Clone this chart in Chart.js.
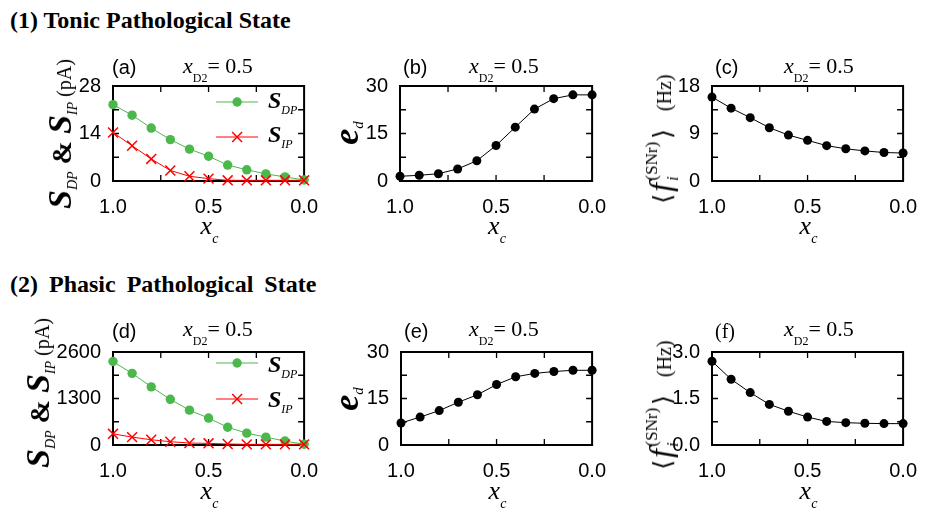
<!DOCTYPE html>
<html lang="en">
<head>
<meta charset="UTF-8">
<title>Tonic and Phasic Pathological States</title>
<script src="https://cdn.jsdelivr.net/npm/chart.js"></script>
<style>
  body { margin: 0; background: #fff; }
  #fig { position: relative; width: 933px; height: 509px; overflow: hidden; }
  #fig canvas { position: absolute; }
  .t { position: absolute; white-space: nowrap; line-height: 1; color: #000;
       font-family: "Liberation Serif", "Times New Roman", serif; }
  .sans { font-family: "Liberation Sans", Arial, sans-serif; }
  .head { font-size: 24px; font-weight: bold; }
  .letter { font-size: 20px; }
  .cond { font-size: 22px; }
  .cond .sub { font-size: 12px; position: relative; top: 9px; }
  .xlab { font-size: 26px; font-style: italic; transform: translateX(-50%); }
  .xlab .sub { font-size: 14px; position: relative; top: 9px; }
  .ylab { font-size: 20px; transform: translate(-50%, -50%) rotate(-90deg); }
  .bigS { font-size: 34px; font-weight: bold; font-style: italic; }
  .amp { font-size: 28px; font-weight: bold; margin: 0 2px; }
  .ysub { font-size: 14px; font-style: italic; position: relative; top: 6px; }
  .br { font-family: "DejaVu Serif", serif; font-size: 25px; }
  .fbig { font-size: 32px; font-style: italic; margin-left: 2px; }
  .fsub { font-size: 16px; font-style: italic; position: relative; top: 7px; margin-left: 2px; }
  .fsup { font-size: 17px; position: relative; top: -14px; margin-left: -4px; margin-right: 3px; }
  .unit { margin-left: 18px; }
  .leg .S { font-size: 24px; font-weight: bold; font-style: italic; }
  .leg .sub { font-size: 12px; font-style: italic; position: relative; top: 6px; }
</style>
</head>
<body>
<div id="fig">
  <div class="t head" style="left:10px;top:8px">(1) Tonic Pathological State</div>
  <div class="t head" style="left:10px;top:272px;word-spacing:5px">(2) Phasic Pathological State</div>
</div>

<script>
  const xc = [1.0, 0.9, 0.8, 0.7, 0.6, 0.5, 0.4, 0.3, 0.2, 0.1, 0.0];
  const xTicks = [1.0, 0.5, 0.0];

  // (1) tonic pathological state
  const tonicSDP = [22.5, 19.4, 15.6, 12.2, 9.4, 7.3, 4.7, 3.3, 2.1, 1.2, 0.3];
  const tonicSIP = [14.3, 10.4, 6.5, 3.1, 1.4, 0.7, 0.2, 0.2, 0.2, 0.2, 0.2];
  const tonicEd = [1.5, 1.8, 2.3, 3.8, 6.4, 11.2, 17.0, 22.7, 26.0, 27.2, 27.2];
  const tonicF = [15.9, 13.8, 12.0, 10.1, 8.7, 7.7, 6.7, 6.1, 5.7, 5.4, 5.3];

  // (2) phasic pathological state
  const phasicSDP = [2333, 2003, 1626, 1277, 974, 753, 496, 331, 220, 110, 20];
  const phasicSIP = [312, 220, 147, 92, 55, 46, 28, 18, 18, 18, 18];
  const phasicEd = [7.1, 9.0, 11.1, 13.8, 16.2, 19.5, 22.0, 23.1, 23.7, 24.1, 24.1];
  const phasicF = [2.70, 2.12, 1.69, 1.31, 1.09, 0.90, 0.76, 0.72, 0.70, 0.69, 0.69];

  const yTicksS1 = [0, 14, 28];
  const yTicksEd = [0, 15, 30];
  const yTicksF1 = [0, 9, 18];
  const yTicksS2 = [0, 1300, 2600];
  const yTicksF2 = [0, 1.5, 3.0];

  const styles = {
    green: { color: "#4cb84c", pointStyle: "circle", pointRadius: 4.7, pointBorderWidth: 0 },
    red: { color: "#ff0000", pointStyle: "crossRot", pointRadius: 7, pointBorderWidth: 1.5 },
    black: { color: "#000000", pointStyle: "circle", pointRadius: 4.5, pointBorderWidth: 0 }
  };

  const labS = '<span class="bigS">S</span><span class="ysub">DP</span> <span class="amp">&amp;</span> ' +
               '<span class="bigS">S</span><span class="ysub">IP</span> (pA)';
  const labE = '<b><i style="font-size:36px">e</i></b><i style="font-size:15px;position:relative;top:5px">d</i>';
  const labF = '<span class="br">&#x27E8;</span><span class="fbig">f</span><span class="fsub">i</span>' +
               '<span class="fsup">(SNr)</span><span class="br">&#x27E9;</span><span class="unit">(Hz)</span>';

  const panels = [
    { letter: "(a)", left: 113, top: 84, w: 193, h: 97, yTicks: yTicksS1, dec: 0, ylab: labS, yc: [60, 134],
      series: [[tonicSDP, "green"], [tonicSIP, "red"]], legendRows: [16, 51], legendTops: [88, 122], condLeft: 183 },
    { letter: "(b)", left: 400, top: 84, w: 194, h: 97, yTicks: yTicksEd, dec: 0, ylab: labE, yc: [346, 133],
      series: [[tonicEd, "black"]], condLeft: 469 },
    { letter: "(c)", left: 712, top: 84, w: 193, h: 97, yTicks: yTicksF1, dec: 0, ylab: labF, yc: [660, 139],
      series: [[tonicF, "black"]], condLeft: 784 },
    { letter: "(d)", left: 113, top: 350, w: 193, h: 95, yTicks: yTicksS2, dec: 0, ylab: labS, yc: [38, 393],
      series: [[phasicSDP, "green"], [phasicSIP, "red"]], legendRows: [11, 47], legendTops: [352, 387], condLeft: 183 },
    { letter: "(e)", left: 401, top: 350, w: 193, h: 95, yTicks: yTicksEd, dec: 0, ylab: labE, yc: [346, 399],
      series: [[phasicEd, "black"]], condLeft: 469 },
    { letter: "(f)", left: 712, top: 350, w: 193, h: 95, yTicks: yTicksF2, dec: 1, ylab: labF, yc: [660, 405],
      series: [[phasicF, "black"]], condLeft: 784, serifLetter: true }
  ];

  // box frame with inward ticks on all four sides, plus the inset legend symbols
  const frameTicks = {
    id: "frameTicks",
    beforeDatasetsDraw(chart) {
      const { ctx, chartArea: a, scales: { x, y } } = chart;
      const withMinor = vals => {
        const s = vals.slice().sort((m, n) => m - n), out = [];
        for (let i = 0; i < s.length; i++) {
          out.push(s[i]);
          if (i < s.length - 1) out.push((s[i] + s[i + 1]) / 2);
        }
        return out.slice(1, -1);
      };
      const L = 6;
      ctx.save();
      ctx.strokeStyle = "#000";
      ctx.lineWidth = 1.3;
      ctx.beginPath();
      withMinor(x.ticks.map(t => t.value)).forEach(v => {
        const px = x.getPixelForValue(v);
        ctx.moveTo(px, a.bottom); ctx.lineTo(px, a.bottom - L);
        ctx.moveTo(px, a.top); ctx.lineTo(px, a.top + L);
      });
      withMinor(y.ticks.map(t => t.value)).forEach(v => {
        const py = y.getPixelForValue(v);
        ctx.moveTo(a.left, py); ctx.lineTo(a.left + L, py);
        ctx.moveTo(a.right, py); ctx.lineTo(a.right - L, py);
      });
      ctx.stroke();
      ctx.lineWidth = 2;
      ctx.strokeRect(a.left, a.top, a.right - a.left, a.bottom - a.top);
      ctx.restore();
    },
    afterDatasetsDraw(chart, args, opts) {
      if (!opts.rows) return;
      const { ctx, chartArea: a } = chart;
      const x0 = a.right - 88, x1 = a.right - 46, xm = (x0 + x1) / 2;
      chart.data.datasets.forEach((ds, i) => {
        const y = a.top + opts.rows[i];
        ctx.save();
        ctx.strokeStyle = ds.borderColor;
        ctx.fillStyle = ds.backgroundColor;
        ctx.lineWidth = ds.borderWidth;
        ctx.beginPath(); ctx.moveTo(x0, y); ctx.lineTo(x1, y); ctx.stroke();
        if (ds.pointStyle === "circle") {
          ctx.beginPath(); ctx.arc(xm, y, ds.pointRadius, 0, Math.PI * 2); ctx.fill();
        } else {
          const r = ds.pointRadius * Math.SQRT1_2;
          ctx.lineWidth = ds.pointBorderWidth;
          ctx.beginPath();
          ctx.moveTo(xm - r, y - r); ctx.lineTo(xm + r, y + r);
          ctx.moveTo(xm + r, y - r); ctx.lineTo(xm - r, y + r);
          ctx.stroke();
        }
        ctx.restore();
      });
    }
  };

  const fig = document.getElementById("fig");
  const YW = 60, PT = 14, PR = 18, XH = 34;
  const tickFont = { family: '"Liberation Sans", Arial, sans-serif', size: 20 };
  let html = "";

  panels.forEach(p => {
    const c = document.createElement("canvas");
    c.width = YW + p.w + PR;
    c.height = PT + p.h + XH;
    c.style.left = (p.left - YW) + "px";
    c.style.top = (p.top - PT) + "px";
    fig.appendChild(c);

    const datasets = p.series.map(([vals, kind], i) => {
      const st = styles[kind];
      return {
        data: xc.map((x, j) => ({ x: x, y: vals[j] })),
        borderColor: st.color,
        backgroundColor: st.color,
        pointBackgroundColor: st.color,
        pointBorderColor: st.color,
        borderWidth: 1,
        pointStyle: st.pointStyle,
        pointRadius: st.pointRadius,
        pointBorderWidth: st.pointBorderWidth,
        tension: 0,
        clip: false,
        order: p.series.length - i
      };
    });

    new Chart(c, {
      type: "line",
      data: { datasets: datasets },
      options: {
        responsive: false,
        animation: false,
        layout: { padding: { left: 0, top: PT, right: PR, bottom: 0 } },
        plugins: { legend: { display: false }, tooltip: { enabled: false }, frameTicks: { rows: p.legendRows } },
        scales: {
          x: {
            type: "linear", reverse: true, min: 0, max: 1,
            afterBuildTicks: s => { s.ticks = xTicks.map(v => ({ value: v })); },
            afterFit: s => { s.height = XH; },
            ticks: { font: tickFont, color: "#000", padding: 6, maxRotation: 0, autoSkip: false,
                     callback: v => Number(v).toFixed(1) },
            grid: { display: false },
            border: { display: false }
          },
          y: {
            type: "linear", min: p.yTicks[0], max: p.yTicks[p.yTicks.length - 1],
            afterBuildTicks: s => { s.ticks = p.yTicks.map(v => ({ value: v })); },
            afterFit: s => { s.width = YW; },
            ticks: { font: tickFont, color: "#000", padding: 4, autoSkip: false,
                     callback: v => Number(v).toFixed(p.dec) },
            grid: { display: false },
            border: { display: false }
          }
        }
      },
      plugins: [frameTicks]
    });

    const row2 = p.top > 200;
    html += '<div class="t ' + (p.serifLetter ? "" : "sans ") + 'letter" style="left:' + (p.left + (p.letter === "(a)" || p.letter === "(d)" ? -1 : 3)) +
            'px;top:' + (row2 ? 321 : 57) + 'px">' + p.letter + '</div>';
    html += '<div class="t cond" style="left:' + p.condLeft + 'px;top:' + (row2 ? 318 : 55) +
            'px"><i>x</i><span class="sub">D2</span>= 0.5</div>';
    html += '<div class="t xlab" style="left:' + (p.left + p.w / 2) + 'px;top:' + (row2 ? 478 : 213) +
            'px">x<span class="sub">c</span></div>';
    html += '<div class="t ylab" style="left:' + p.yc[0] + 'px;top:' + p.yc[1] + 'px">' + p.ylab + '</div>';
    if (p.legendTops) {
      ["DP", "IP"].forEach((s, i) => {
        html += '<div class="t leg" style="left:' + (p.left + 155) + 'px;top:' + p.legendTops[i] +
                'px"><span class="S">S</span><span class="sub">' + s + '</span></div>';
      });
    }
  });

  fig.insertAdjacentHTML("beforeend", html);
</script>
</body>
</html>
